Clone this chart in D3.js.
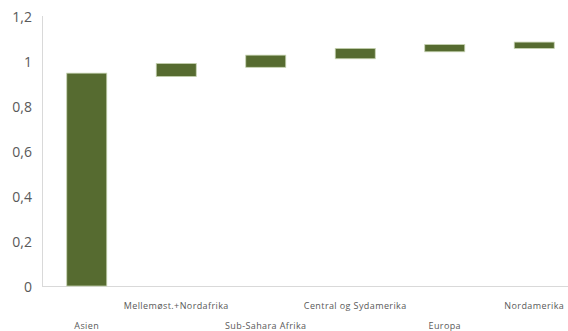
<!DOCTYPE html>
<html><head><meta charset="utf-8">
<script src="https://cdn.jsdelivr.net/npm/d3@7/dist/d3.min.js"></script>
<style>body{margin:0;background:#fff;}svg{display:block;}</style>
</head><body>
<svg id="c" width="568" height="331"></svg>
<script>
const categories = ["Asien","Mellemøst.+Nordafrika","Sub-Sahara Afrika","Central og Sydamerika","Europa","Nordamerika"];
const baseValues = [0, 0.931, 0.972, 1.010, 1.041, 1.056];
const barValues  = [0.946, 0.058, 0.054, 0.046, 0.032, 0.028];
const yTicks = [0, 0.2, 0.4, 0.6, 0.8, 1, 1.2];
const yTickLabels = ["0","0,2","0,4","0,6","0,8","1","1,2"];

const svg = d3.select("#c");
const x = d3.scaleBand().domain(categories).range([42, 579]).paddingInner(0.553).paddingOuter(0.2765);
const y = d3.scaleLinear().domain([0, 1.2]).range([286, 16]);

svg.append("line").attr("x1",42.5).attr("x2",42.5).attr("y1",y(1.2)).attr("y2",y(0))
  .attr("stroke","#d9d9d9").attr("stroke-width",1);
svg.append("line").attr("x1",42).attr("x2",568).attr("y1",y(0)+0.5).attr("y2",y(0)+0.5)
  .attr("stroke","#d9d9d9").attr("stroke-width",1);

const yAxis = d3.axisLeft(y).tickValues(yTicks).tickFormat((d,i)=>yTickLabels[i]).tickSize(0).tickPadding(10);
const ga = svg.append("g").attr("transform","translate(42,1)").call(yAxis);
ga.select(".domain").remove();
ga.selectAll("text").attr("font-family","'Open Sans', sans-serif").attr("font-size",14).attr("fill","#595959");

categories.forEach((c,i)=>{
  const b = baseValues[i], v = barValues[i];
  svg.append("rect")
    .attr("x", x(c)).attr("width", x.bandwidth())
    .attr("y", y(b+v)).attr("height", y(b)-y(b+v))
    .attr("fill","#566b30").attr("stroke","#c5d2b0").attr("stroke-width",0.8);
});

categories.forEach((c,i)=>{
  svg.append("text")
    .attr("x", x(c)+x.bandwidth()/2)
    .attr("y", i%2===0 ? 328.5 : 309)
    .attr("text-anchor","middle")
    .attr("font-family","'Open Sans', sans-serif").attr("font-size",9).attr("letter-spacing",0.4).attr("fill","#595959")
    .text(c);
});
</script>
</body></html>
